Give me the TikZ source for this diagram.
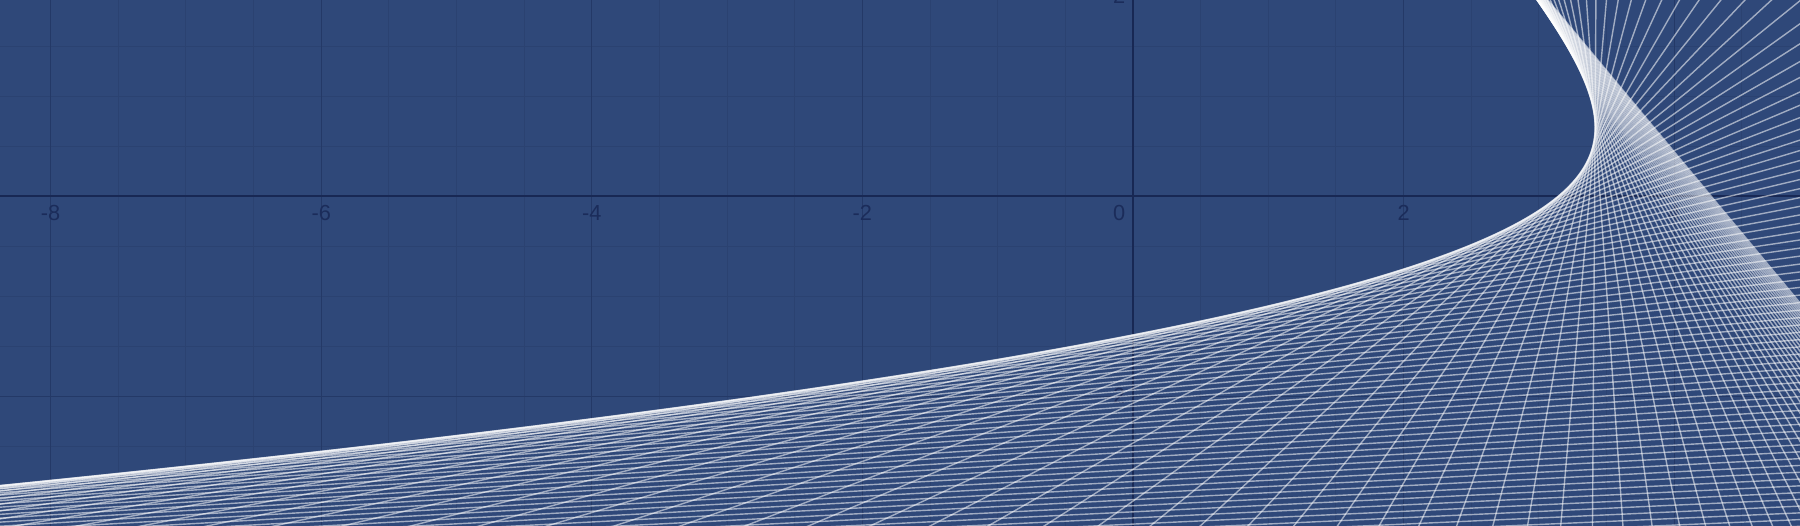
\documentclass[tikz,border=0pt]{standalone}
\usepackage{fontspec}
\setmainfont{Liberation Sans}
\usepackage{tikz}
\usetikzlibrary{calc}
\definecolor{paperblue}{RGB}{47,72,121}
\definecolor{minorgrid}{RGB}{43,66,113}
\definecolor{majorgrid}{RGB}{36,57,103}
\definecolor{axisnavy}{RGB}{24,40,84}
\definecolor{labelnavy}{RGB}{27,44,90}
\tikzset{
  gridminor/.style={minorgrid, line width=0.3pt},
  gridmajor/.style={majorgrid, line width=0.35pt},
  axisline/.style={axisnavy, line width=0.6pt},
  ticklabel/.style={labelnavy, inner sep=0pt, font=\fontsize{6.2}{7}\selectfont},
  stringline/.style={white, opacity=0.55, line width=0.4pt}
}

\begin{document}
\begin{tikzpicture}[x=1.353cm, y=1cm]
  \coordinate (SW) at (-8.374, -3.297); %
  \coordinate (NE) at (4.930, 1.963); %
  \useasboundingbox (SW) rectangle (NE);
  \fill[paperblue] (SW) rectangle (NE);
  \begin{scope}
    \clip (SW) rectangle (NE);
    % half unit grid, then every second unit
    \foreach \gx in {-8.5,-8,...,5} \draw[gridminor] (\gx, -3.5) -- (\gx, 2.2); %
    \foreach \gy in {-3.5,-3,...,2} \draw[gridminor] (-8.5, \gy) -- (5, \gy); %
    \foreach \gx in {-8,-6,...,4} \draw[gridmajor] (\gx, -3.5) -- (\gx, 2.2); %
    \foreach \gy in {-2,2} \draw[gridmajor] (-8.5, \gy) -- (5, \gy); %
    \draw[axisline] (-8.5, 0) -- (5, 0); %
    \draw[axisline] (0, -3.5) -- (0, 2.2); %
  \end{scope}
  % tick numbers
  \foreach \v/\n in {-8/m8, -6/m6, -4/m4, -2/m2, 2/p2, 4/p4}
    \node[ticklabel] (x\n) at (\v, -0.166) {\v}; %
  \node[ticklabel, anchor=east] (zero) at (-0.052, -0.166) {0}; %
  \node[ticklabel, anchor=east] (yp2) at (-0.052, 2) {2}; %
  \node[ticklabel, anchor=east] (ym2) at (-0.052, -2) {-2}; %
  % tangent lines of x = f(y)
  \begin{scope}
    \clip (SW) rectangle (NE);
    \xdef\yz{-7.4}%
    \foreach \k in {1,...,220}{%
      \ifdim\yz pt<6pt
        \pgfmathsetmacro\uu{0.42-(\yz)}%
        \pgfmathsetmacro\sq{sqrt(\uu*\uu+2.25)}%
        \pgfmathsetmacro\rr{(\uu+\sq)/2}%
        \pgfmathsetmacro\fx{4.315-0.62*(\yz)-1.2*\rr*\rr}%
        \pgfmathsetmacro\fd{2.4*\rr*\rr/\sq-0.62}%
        \pgfmathsetmacro\xa{\fx+\fd*(-3.5-(\yz))}%
        \pgfmathsetmacro\xb{\fx+\fd*(2.2-(\yz))}%
        \coordinate (ta) at (\xa, -3.5); %
        \coordinate (tb) at (\xb, 2.2); %
        \draw[stringline] (ta) -- (tb); %
        \pgfmathsetmacro\stp{(0.05+0.08/(1+exp(min((\yz+0.8)/0.6,8)))+0.02/(1+exp(min((0.7-(\yz))/0.15,8))))*exp(0.7*max(\yz-1.8,0))}%
        \pgfmathsetmacro\ynext{\yz+\stp}%
        \xdef\yz{\ynext}%
      \fi
    }
  \end{scope}
\end{tikzpicture}
\end{document}
